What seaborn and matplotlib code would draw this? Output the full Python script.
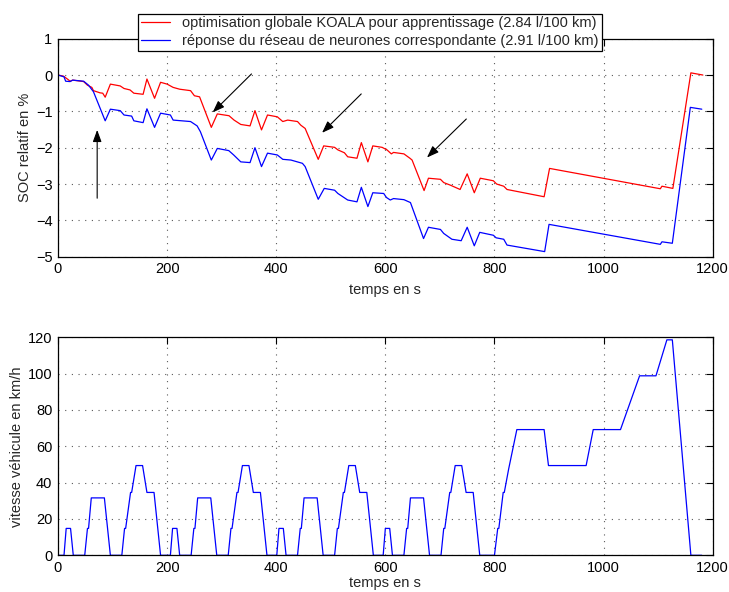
import numpy as np
import pandas as pd
import matplotlib
matplotlib.use("Agg")
import matplotlib.pyplot as plt
import seaborn as sns

# ---------------- data ----------------
red_t = [0, 10, 19, 22, 27, 47, 54, 62, 65, 77, 82, 86.5, 96, 114, 121, 132, 139, 156, 163, 177,
         188, 200, 211, 223, 243, 250, 259.5, 281, 292, 313.5, 322.7, 335, 352, 361, 373, 384,
         402, 412, 421, 439, 445, 453, 477, 487, 507, 513, 525, 531, 548, 556, 568, 577, 594,
         603, 611, 615, 634, 645, 649, 671, 679, 701, 707, 719, 737, 750, 763, 774, 798, 804,
         817, 823, 891, 901, 1104, 1107, 1127, 1160, 1182]
red_soc = [0, -0.03, -0.13, -0.17, -0.14, -0.18, -0.28, -0.34, -0.43, -0.49, -0.5, -0.61, -0.25,
           -0.3, -0.37, -0.41, -0.5, -0.53, -0.11, -0.64, -0.2, -0.25, -0.34, -0.39, -0.43, -0.57,
           -0.6, -1.44, -1.07, -1.12, -1.24, -1.36, -1.40, -0.98, -1.51, -1.10, -1.15, -1.28,
           -1.24, -1.28, -1.38, -1.47, -2.32, -1.95, -1.99, -2.06, -2.14, -2.25, -2.29, -1.86,
           -2.39, -1.95, -1.99, -2.06, -2.17, -2.13, -2.17, -2.29, -2.34, -3.18, -2.84, -2.87,
           -2.96, -3.03, -3.15, -2.72, -3.24, -2.84, -2.91, -3.0, -3.06, -3.15, -3.35, -2.57,
           -3.13, -3.06, -3.12, 0.06, 0.0]

blue_t = [0, 11, 14, 22, 27, 47, 56, 65, 86.5, 96, 114, 121, 135, 139, 156, 163, 177, 188, 206,
          211, 243, 255, 261, 281, 292, 313, 322, 335, 352, 361, 373, 384, 402, 412, 427, 448,
          453, 477, 488, 507, 513, 531, 548, 556, 568, 577, 597, 602, 609, 615, 634, 646, 670,
          679, 701, 707, 722, 739, 750, 763, 773, 798, 803, 817, 823, 892, 900, 1104, 1107,
          1126, 1159, 1180]
blue_soc = [0, -0.05, -0.17, -0.18, -0.14, -0.17, -0.28, -0.46, -1.26, -0.94, -0.98, -1.1, -1.13,
            -1.26, -1.31, -0.93, -1.44, -1.05, -1.10, -1.24, -1.28, -1.4, -1.56, -2.34, -2.02,
            -2.08, -2.2, -2.39, -2.41, -2.0, -2.52, -2.15, -2.2, -2.32, -2.34, -2.43, -2.52,
            -3.42, -3.12, -3.17, -3.26, -3.44, -3.49, -3.09, -3.62, -3.24, -3.26, -3.37, -3.44,
            -3.4, -3.43, -3.51, -4.5, -4.19, -4.25, -4.36, -4.52, -4.56, -4.19, -4.7, -4.33,
            -4.41, -4.48, -4.52, -4.68, -4.86, -4.11, -4.66, -4.59, -4.63, -0.89, -0.94]

speed_t = [0, 11, 15, 23, 28, 49, 54, 56, 61, 85, 96, 117, 122, 124, 133, 135, 143, 155, 163, 176, 188,
           195, 206, 210, 218, 223, 244, 249, 251, 256, 280, 291, 312, 317, 319, 328, 330, 338, 350, 358, 371, 383,
           390, 401, 405, 413, 418, 439, 444, 446, 451, 475, 486, 507, 512, 514, 523, 525, 533, 545, 553, 566, 578,
           585, 596, 600, 608, 613, 634, 639, 641, 646, 670, 681, 702, 707, 709, 718, 720, 728, 740, 748, 761, 773,
           780, 800, 806, 808, 816, 818, 826, 841, 891, 899, 968, 981, 1031, 1066, 1096, 1116, 1126, 1160, 1180]
speed_v = [0, 0, 14.8, 14.8, 0, 0, 14.8, 14.8, 31.6, 31.6, 0, 0, 14.8, 14.8, 34.6, 34.6, 49.4, 49.4, 34.6, 34.6, 0,
           0, 0, 14.8, 14.8, 0, 0, 14.8, 14.8, 31.6, 31.6, 0, 0, 14.8, 14.8, 34.6, 34.6, 49.4, 49.4, 34.6, 34.6, 0,
           0, 0, 14.8, 14.8, 0, 0, 14.8, 14.8, 31.6, 31.6, 0, 0, 14.8, 14.8, 34.6, 34.6, 49.4, 49.4, 34.6, 34.6, 0,
           0, 0, 14.8, 14.8, 0, 0, 14.8, 14.8, 31.6, 31.6, 0, 0, 14.8, 14.8, 34.6, 34.6, 49.4, 49.4, 34.6, 34.6, 0,
           0, 0, 14.8, 14.8, 34.6, 34.6, 47.5, 69.2, 69.2, 49.4, 49.4, 69.2, 69.2, 98.8, 98.8, 118.6, 118.6, 0, 0]

# arrows: (tail_t, tail_soc, tip_t, tip_soc)
arrow_tail_t = [71.8, 354.6, 555.8, 748.4]
arrow_tail_soc = [-3.39, 0.03, -0.52, -1.21]
arrow_tip_t = [71.8, 283.4, 484.0, 676.3]
arrow_tip_soc = [-1.51, -1.03, -1.59, -2.27]

labels = ["optimisation globale KOALA pour apprentissage (2.84 l/100 km)",
          "réponse du réseau de neurones correspondante (2.91 l/100 km)"]

FS = 10.5

# ---------------- style ----------------
sns.set_style("white")
plt.rcParams["font.family"] = ["Liberation Sans", "DejaVu Sans"]
plt.rcParams["font.size"] = FS

fig = plt.figure(figsize=(7.29, 5.92), dpi=100)
ax1 = fig.add_axes([58 / 729, 1 - 256.7 / 592, 654.7 / 729, 218 / 592])
ax2 = fig.add_axes([58 / 729, 1 - 555.3 / 592, 654.7 / 729, 218 / 592])

df_red = pd.DataFrame({"t": red_t, "soc": red_soc})
df_blue = pd.DataFrame({"t": blue_t, "soc": blue_soc})
df_speed = pd.DataFrame({"t": speed_t, "v": speed_v})

sns.lineplot(data=df_red, x="t", y="soc", ax=ax1, color="#ff0000", lw=0.9,
             estimator=None, sort=False, label=labels[0])
sns.lineplot(data=df_blue, x="t", y="soc", ax=ax1, color="#0000ff", lw=0.9,
             estimator=None, sort=False, label=labels[1])
sns.lineplot(data=df_speed, x="t", y="v", ax=ax2, color="#0000ff", lw=0.9,
             estimator=None, sort=False)

for tt, ts, pt, ps in zip(arrow_tail_t, arrow_tail_soc, arrow_tip_t, arrow_tip_soc):
    ax1.annotate("", xy=(pt, ps), xytext=(tt, ts),
                 arrowprops=dict(arrowstyle="-|>,head_length=0.6,head_width=0.22",
                                 color="black", lw=0.8, shrinkA=0, shrinkB=0,
                                 mutation_scale=12))

for ax in (ax1, ax2):
    ax.set_xlim(0, 1200)
    ax.set_xticks(np.arange(0, 1201, 200))
    ax.grid(True, linestyle=(0, (1, 5)), color="0.35", lw=0.8)
    ax.tick_params(direction="in", top=True, right=True, length=5, width=0.8,
                   labelsize=FS, colors="black", pad=4)
    for s in ax.spines.values():
        s.set_color("black")
        s.set_linewidth(0.9)

ax1.set_xlabel("temps en s", fontsize=FS, labelpad=5)
ax2.set_xlabel("temps en s", fontsize=FS, labelpad=1)

ax1.set_ylim(-5, 1)
ax1.set_yticks(np.arange(-5, 1.01, 1))
ax1.set_ylabel("SOC relatif en %", fontsize=FS, labelpad=3)
ax2.set_ylim(0, 120)
ax2.set_yticks(np.arange(0, 121, 20))
ax2.set_ylabel("vitesse véhicule en km/h", fontsize=FS, labelpad=3)

leg = ax1.legend(loc="upper center", bbox_to_anchor=(370 / 729, 1 - 13.5 / 592),
                 bbox_transform=fig.transFigure, fancybox=False, framealpha=1,
                 edgecolor="black", fontsize=FS, handlelength=2.0, labelspacing=0.25,
                 borderpad=0.2, handletextpad=0.8, borderaxespad=0)
leg.get_frame().set_linewidth(0.9)
leg.set_zorder(10)

fig.savefig("out.png", dpi=100)
